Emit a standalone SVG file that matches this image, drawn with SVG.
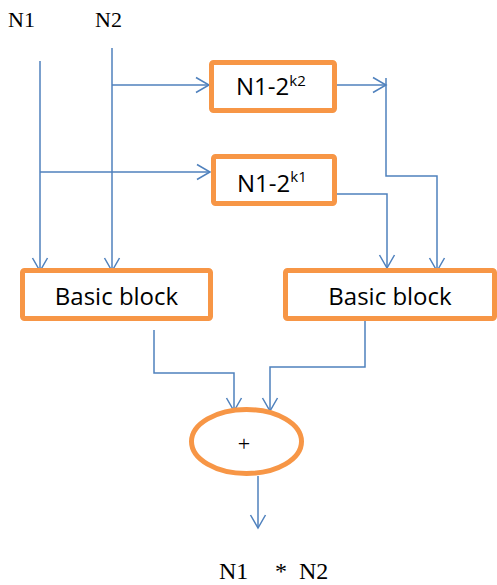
<svg xmlns="http://www.w3.org/2000/svg" width="497" height="585" viewBox="0 0 497 585">
<style>
.box{fill:#fff;stroke:#F79646;stroke-width:5}
.ln{fill:none;stroke:#4F81BD;stroke-width:1.5}
.arr{marker-end:url(#ah)}
.serif{font-family:"Liberation Serif","Times New Roman",serif;font-size:22px;fill:#000}
.big{font-size:24px}
.sans{font-family:"Open Sans","Liberation Sans",sans-serif;font-size:24px;fill:#000}
.sup{font-size:15px}
</style>
<defs>
<marker id="ah" markerUnits="userSpaceOnUse" markerWidth="16" markerHeight="18" viewBox="0 0 16 18" refX="14" refY="9" orient="auto">
<path d="M1,1.5 L14,9 L1,16.5" fill="none" stroke="#4F81BD" stroke-width="1.5"/>
</marker>
</defs>
<rect width="497" height="585" fill="#fff"/>
<g id="labels">
<text class="serif" x="8" y="27">N1</text>
<text class="serif" x="95" y="27">N2</text>
<text class="serif big" y="579"><tspan x="219">N1</tspan><tspan x="275">*</tspan><tspan x="299">N2</tspan></text>
</g>
<g id="connectors">
<path class="ln arr" d="M40,61 V271"/>
<path class="ln arr" d="M112,48 V271"/>
<path class="ln arr" d="M112,85 H209"/>
<path class="ln arr" d="M40,172 H210"/>
<path class="ln arr" d="M337,85 H386"/>
<path class="ln arr" d="M386,78 V176 H437 V271"/>
<path class="ln arr" d="M337,194 H387 V268"/>
<path class="ln arr" d="M154,330 V373 H234 V411"/>
<path class="ln arr" d="M365,321 V367 H270 V411"/>
<path class="ln arr" d="M258,476 V528"/>
</g>
<g id="k2box">
<rect class="box" x="211.5" y="62.5" width="123" height="48" rx="2"/>
<text class="sans" x="236" y="95">N1-2<tspan class="sup" dy="-9">k2</tspan></text>
</g>
<g id="k1box">
<rect class="box" x="213.5" y="156.5" width="121" height="47" rx="2"/>
<text class="sans" x="237" y="192">N1-2<tspan class="sup" dy="-10">k1</tspan></text>
</g>
<g id="basic1">
<rect class="box" x="22.5" y="270.5" width="188" height="48" rx="2"/>
<text class="sans" x="116.5" y="305" text-anchor="middle">Basic block</text>
</g>
<g id="basic2">
<rect class="box" x="285.5" y="270.5" width="209" height="48" rx="2"/>
<text class="sans" x="390" y="305" text-anchor="middle">Basic block</text>
</g>
<g id="adder">
<ellipse class="box" cx="246.5" cy="441.5" rx="55" ry="32"/>
<text class="serif" x="244" y="451" text-anchor="middle">+</text>
</g>
</svg>
